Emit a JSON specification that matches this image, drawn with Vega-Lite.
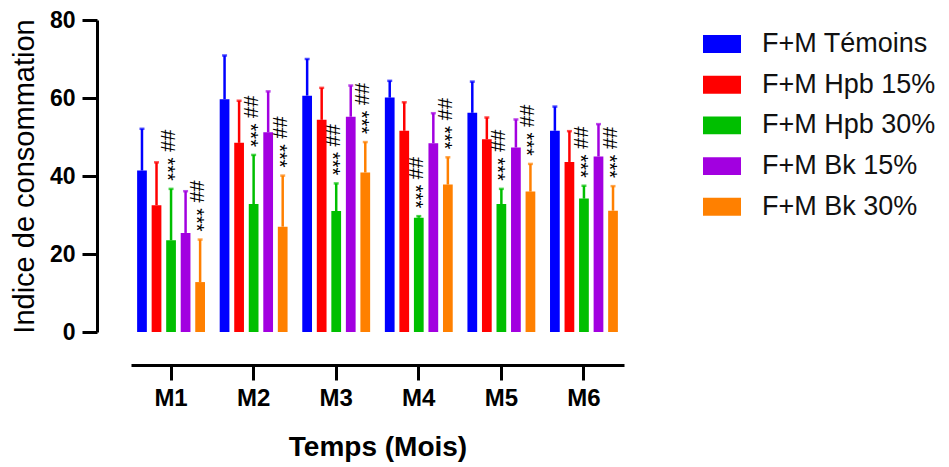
{
  "$schema": "https://vega.github.io/schema/vega-lite/v6.json",
  "width": 493,
  "height": 312,
  "autosize": {"type": "none"},
  "padding": {"left": 131, "top": 20, "right": 325, "bottom": 135},
  "background": "white",
  "config": {
    "view": {"stroke": null},
    "font": "Liberation Sans",
    "axis": {"grid": false, "domainColor": "black", "tickColor": "black", "labelColor": "black", "titleColor": "black"}
  },
  "data": {
    "values": [
      {"month": "M1", "group": "F+M Témoins", "mean": 41.4, "hi": 52.1, "sig": ""},
      {"month": "M1", "group": "F+M Hpb 15%", "mean": 32.5, "hi": 43.5, "sig": ""},
      {"month": "M1", "group": "F+M Hpb 30%", "mean": 23.5, "hi": 36.7, "sig": "## ***"},
      {"month": "M1", "group": "F+M Bk 15%", "mean": 25.4, "hi": 36.1, "sig": ""},
      {"month": "M1", "group": "F+M Bk 30%", "mean": 12.8, "hi": 23.7, "sig": "## ***"},
      {"month": "M2", "group": "F+M Témoins", "mean": 59.7, "hi": 70.9, "sig": ""},
      {"month": "M2", "group": "F+M Hpb 15%", "mean": 48.5, "hi": 59.3, "sig": ""},
      {"month": "M2", "group": "F+M Hpb 30%", "mean": 32.8, "hi": 45.4, "sig": "## ***"},
      {"month": "M2", "group": "F+M Bk 15%", "mean": 51.2, "hi": 61.7, "sig": ""},
      {"month": "M2", "group": "F+M Bk 30%", "mean": 27.0, "hi": 40.1, "sig": "## ***"},
      {"month": "M3", "group": "F+M Témoins", "mean": 60.6, "hi": 70.0, "sig": ""},
      {"month": "M3", "group": "F+M Hpb 15%", "mean": 54.4, "hi": 62.6, "sig": ""},
      {"month": "M3", "group": "F+M Hpb 30%", "mean": 31.0, "hi": 38.1, "sig": "## ***"},
      {"month": "M3", "group": "F+M Bk 15%", "mean": 55.2, "hi": 63.2, "sig": ""},
      {"month": "M3", "group": "F+M Bk 30%", "mean": 40.9, "hi": 48.7, "sig": "## ***"},
      {"month": "M4", "group": "F+M Témoins", "mean": 60.1, "hi": 64.4, "sig": ""},
      {"month": "M4", "group": "F+M Hpb 15%", "mean": 51.6, "hi": 58.9, "sig": ""},
      {"month": "M4", "group": "F+M Hpb 30%", "mean": 29.3, "hi": 29.7, "sig": "## ***"},
      {"month": "M4", "group": "F+M Bk 15%", "mean": 48.4, "hi": 56.1, "sig": ""},
      {"month": "M4", "group": "F+M Bk 30%", "mean": 37.8, "hi": 44.8, "sig": "## ***"},
      {"month": "M5", "group": "F+M Témoins", "mean": 56.2, "hi": 64.2, "sig": ""},
      {"month": "M5", "group": "F+M Hpb 15%", "mean": 49.4, "hi": 55.0, "sig": ""},
      {"month": "M5", "group": "F+M Hpb 30%", "mean": 32.8, "hi": 36.7, "sig": "## ***"},
      {"month": "M5", "group": "F+M Bk 15%", "mean": 47.3, "hi": 54.5, "sig": ""},
      {"month": "M5", "group": "F+M Bk 30%", "mean": 36.0, "hi": 43.1, "sig": "## ***"},
      {"month": "M6", "group": "F+M Témoins", "mean": 51.6, "hi": 57.8, "sig": ""},
      {"month": "M6", "group": "F+M Hpb 15%", "mean": 43.6, "hi": 51.5, "sig": ""},
      {"month": "M6", "group": "F+M Hpb 30%", "mean": 34.2, "hi": 37.5, "sig": "## ***"},
      {"month": "M6", "group": "F+M Bk 15%", "mean": 45.0, "hi": 53.3, "sig": ""},
      {"month": "M6", "group": "F+M Bk 30%", "mean": 31.1, "hi": 37.4, "sig": "## ***"}
    ]
  },
  "encoding": {
    "x": {
      "field": "month", "type": "nominal",
      "scale": {"paddingInner": 0.12, "paddingOuter": 0.045},
      "axis": {
        "title": "Temps (Mois)", "labelAngle": 0, "offset": 33,
        "domainWidth": 3, "tickWidth": 3, "tickSize": 15,
        "labelFont": "Liberation Sans", "labelFontSize": 24, "labelFontWeight": "bold", "labelPadding": 6,
        "titleFont": "Liberation Sans", "titleFontSize": 28, "titleFontWeight": "bold", "titlePadding": 23
      }
    },
    "xOffset": {
      "field": "group", "type": "nominal",
      "sort": ["F+M Témoins", "F+M Hpb 15%", "F+M Hpb 30%", "F+M Bk 15%", "F+M Bk 30%"],
      "scale": {"paddingInner": 0.33, "paddingOuter": 0.165}
    }
  },
  "layer": [
    {
      "mark": {"type": "bar"},
      "encoding": {
        "y": {
          "field": "mean", "type": "quantitative",
          "scale": {"domain": [0, 80], "nice": false},
          "axis": {
            "title": "Indice de consommation", "values": [0, 20, 40, 60, 80], "offset": 34,
            "domainWidth": 3, "tickWidth": 3, "tickSize": 15,
            "labelFont": "Liberation Sans", "labelFontSize": 23, "labelFontWeight": "bold", "labelPadding": 7,
            "titleFont": "Liberation Sans", "titleFontSize": 29, "titleFontWeight": "normal", "titlePadding": 10
          }
        },
        "color": {
          "field": "group", "type": "nominal",
          "sort": ["F+M Témoins", "F+M Hpb 15%", "F+M Hpb 30%", "F+M Bk 15%", "F+M Bk 30%"],
          "scale": {
            "domain": ["F+M Témoins", "F+M Hpb 15%", "F+M Hpb 30%", "F+M Bk 15%", "F+M Bk 30%"],
            "range": ["#0000FF", "#FF0000", "#00BF00", "#A200E0", "#FF8000"]
          },
          "legend": {
            "title": null, "orient": "none", "legendX": 572, "legendY": 5, "padding": 0,
            "symbolType": "M-1,-0.47L1,-0.47L1,0.47L-1,0.47Z", "symbolSize": 1444,
            "symbolOpacity": 1, "symbolStrokeWidth": 0, "symbolOffset": 0,
            "rowPadding": 8.7, "labelOffset": 21, "labelFont": "Liberation Sans",
            "labelFontSize": 27, "labelColor": "#111111", "labelLimit": 300
          }
        }
      }
    },
    {
      "mark": {"type": "rule", "strokeWidth": 2.5},
      "encoding": {
        "y": {"field": "mean", "type": "quantitative"},
        "y2": {"field": "hi"},
        "color": {"field": "group", "type": "nominal", "legend": null}
      }
    },
    {
      "mark": {"type": "tick", "orient": "horizontal", "size": 5, "thickness": 2.5},
      "encoding": {
        "y": {"field": "hi", "type": "quantitative"},
        "color": {"field": "group", "type": "nominal", "legend": null}
      }
    },
    {
      "transform": [{"filter": "datum.sig != ''"}],
      "mark": {"type": "text", "angle": 90, "align": "right", "baseline": "middle", "dx": -8, "dy": 4, "fontSize": 20, "font": "Liberation Sans", "color": "black"},
      "encoding": {
        "y": {"field": "hi", "type": "quantitative"},
        "text": {"field": "sig"}
      }
    }
  ]
}
